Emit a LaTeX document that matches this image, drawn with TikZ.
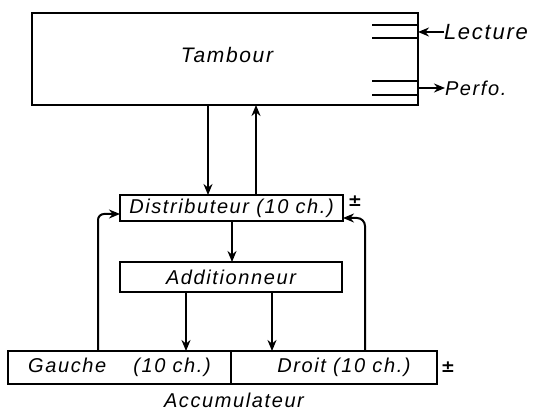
\documentclass[tikz,border=0pt]{standalone}
\usepackage{fontspec}
\usetikzlibrary{arrows.meta}
\newfontfamily\hand[LetterSpace=8]{Liberation Sans}
\newfontfamily\pmfont{DejaVu Sans}
\begin{document}
\begin{tikzpicture}[x=1pt,y=-1pt,
  every node/.style={inner sep=0pt,outer sep=0pt},
  box/.style={draw,line width=2pt,font=\hand\itshape\fontsize{20}{20}\selectfont},
  lbl/.style={font=\hand\itshape\fontsize{20}{20}\selectfont},
  pm/.style={font=\pmfont\bfseries\fontsize{17}{17}\selectfont},
  conn/.style={line width=2pt,-{Stealth[length=11pt,width=9pt]}},
  head/.style={line width=1.4pt}]
\useasboundingbox (0,0) rectangle (543,411);
% Tambour
\node[box,minimum width=386pt,minimum height=92pt] (tambour) at (225,59) {};
\node[lbl,font=\hand\itshape\fontsize{21}{21}\selectfont] (tamtxt) at (227,55) {Tambour};
% read/write heads
\draw[head] (372,25) -- (tambour.east |- 0,25);
\draw[head] (372,38) -- (tambour.east |- 0,38);
\draw[head] (372,81) -- (tambour.east |- 0,81);
\draw[head] (372,95) -- (tambour.east |- 0,95);
\node[lbl,anchor=west,font=\hand\itshape\fontsize{22}{22}\selectfont] (lecture) at (444,32) {Lecture};
\node[lbl,anchor=west] (perfo) at (445,88) {Perfo.};
\draw[conn] (lecture.west) -- (lecture.west -| tambour.east);
\draw[conn] (perfo.west -| tambour.east) -- (perfo.west);
% Distributeur
\node[box,minimum width=223pt,minimum height=26pt] (distrib) at (231.5,208) {Distributeur (10 ch.)};
\node[pm] (pm1) at (355,201) {±};
% Additionneur
\node[box,minimum width=222pt,minimum height=30pt] (add) at (231,277) {Additionneur};
% Accumulateur
\node[box,minimum width=223pt,minimum height=33pt] (gauche) at (119.5,367.5) {Gauche\quad\  (10 ch.)};
\node[box,minimum width=206pt,minimum height=33pt,anchor=west] (droit) at (gauche.east) {\quad Droit (10 ch.)};
\node[pm] (pm2) at (448,367) {±};
\node[lbl] (accu) at (234,400) {Accumulateur};
% connectors
\draw[conn] (208,0 |- tambour.south) -- (208,0 |- distrib.north);
\draw[conn] (256,0 |- distrib.north) -- (256,0 |- tambour.south);
\draw[conn] (232,0 |- distrib.south) -- (232,0 |- add.north);
\draw[conn] (186,0 |- add.south) -- (186,0 |- gauche.north);
\draw[conn] (272,0 |- add.south) -- (272,0 |- droit.north);
\draw[conn,rounded corners=6pt] (98,0 |- gauche.north) |- ([yshift=-6pt]distrib.west);
\draw[conn,rounded corners=8pt] (365,0 |- droit.north) |- ([yshift=-10pt]distrib.east);
\end{tikzpicture}
\end{document}
